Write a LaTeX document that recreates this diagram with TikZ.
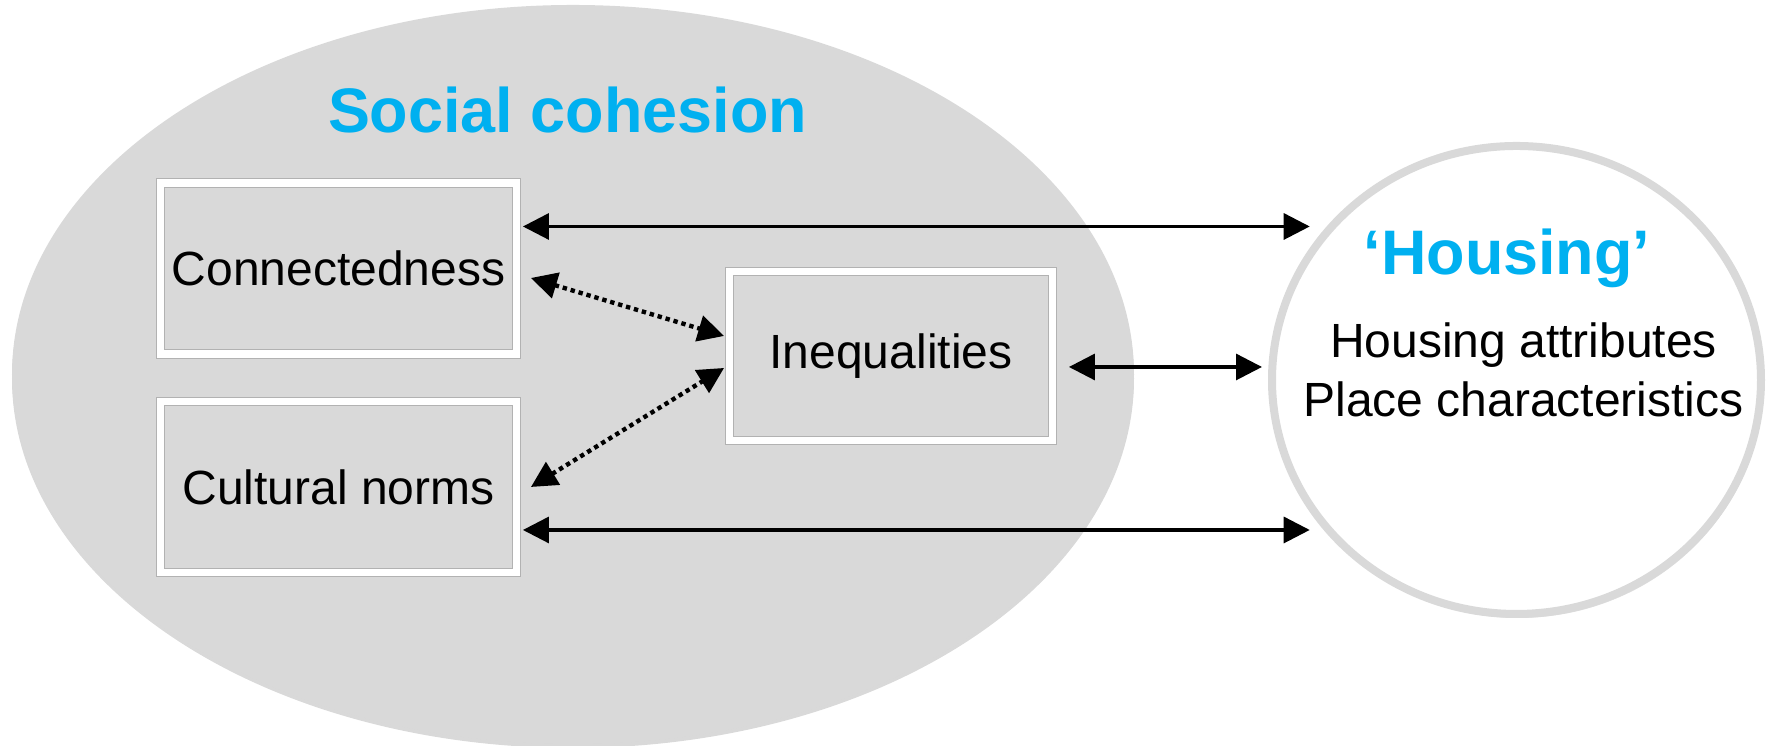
\documentclass[tikz,border=0pt]{standalone}
\usepackage{fontspec}
\setmainfont{Liberation Sans}
\usetikzlibrary{arrows.meta,shapes.geometric,shadows,positioning}

\definecolor{cohesionblue}{HTML}{00B0F0}
\definecolor{panelgray}{HTML}{D9D9D9}

\begin{document}
\begin{tikzpicture}
	\tikzstyle{factor}=[draw=black!30, line width=0.25pt, double=white, double distance=0.75mm, fill=panelgray, inner sep=0pt, minimum width=3.56cm, minimum height=1.71cm, drop shadow={shadow xshift=0.3mm, shadow yshift=-0.5mm, opacity=0.35}, font=\fontsize{13.66}{16}\selectfont]
	\tikzstyle{title}=[text=cohesionblue, font=\fontsize{17.9}{21}\selectfont\bfseries, anchor=base]
	\tikzstyle{body}=[font=\fontsize{13.66}{16}\selectfont, anchor=base]
	\tikzstyle{link}=[{Triangle[length=2.6mm,width=2.6mm]}-{Triangle[length=2.6mm,width=2.6mm]}, line width=0.9pt]
	\tikzstyle{weak}=[link, line width=1.25pt, dash pattern=on 1.25pt off 1.1pt]

	\useasboundingbox (0,0) rectangle (17.71,7.46);

	% the two areas
	\node [ellipse, fill=panelgray, minimum width=11.22cm, minimum height=7.39cm, drop shadow={shadow xshift=0mm, shadow yshift=-0.4mm, opacity=0.3}] (cohesion) at (5.73,3.715) {};
	\node [ellipse, draw=panelgray, line width=0.8mm, fill=white, minimum width=4.89cm, minimum height=4.68cm, drop shadow={shadow xshift=0.2mm, shadow yshift=-0.4mm, opacity=0.25}] (housing) at (15.165,3.66) {};

	\node [title] (cohesiontitle) at (5.675,6.13) {Social cohesion};
	\node [title] (housingtitle) at (15.07,4.71) {‘Housing’};
	\node [body] (attrs) at (15.235,3.88) {Housing attributes};
	\node [body] (place) at (15.235,3.29) {Place characteristics};

	% the three factors
	\node [factor] (conn) at (3.385,4.775) {Connectedness};
	\node [factor] (norms) [below of=conn, node distance=2.185cm] {Cultural norms};
	\node [factor, minimum width=3.23cm, minimum height=1.69cm] (ineq) at (8.91,3.90) {Inequalities};

	% links to housing
	\coordinate (topstart) at ([xshift=0.6mm,yshift=4.2mm]conn.east);
	\coordinate (midstart) at ([xshift=1.6mm,yshift=-1.1mm]ineq.east);
	\coordinate (lowstart) at ([xshift=0.6mm,yshift=-4.3mm]norms.east);
	\draw [link, shorten >=1.7mm] (topstart) -- (topstart -| housing.141);
	\draw [link, shorten >=0.6mm] (midstart) -- (midstart -| housing.west);
	\draw [link, shorten >=1.7mm] (lowstart) -- (lowstart -| housing.219);

	% links inside
	\draw [weak] ([xshift=1.4mm,yshift=-0.95mm]conn.east) -- ([xshift=-0.5mm,yshift=2mm]ineq.west);
	\draw [weak] ([xshift=1.4mm]norms.east) -- ([xshift=-0.5mm,yshift=-1.2mm]ineq.west);
\end{tikzpicture}
\end{document}
